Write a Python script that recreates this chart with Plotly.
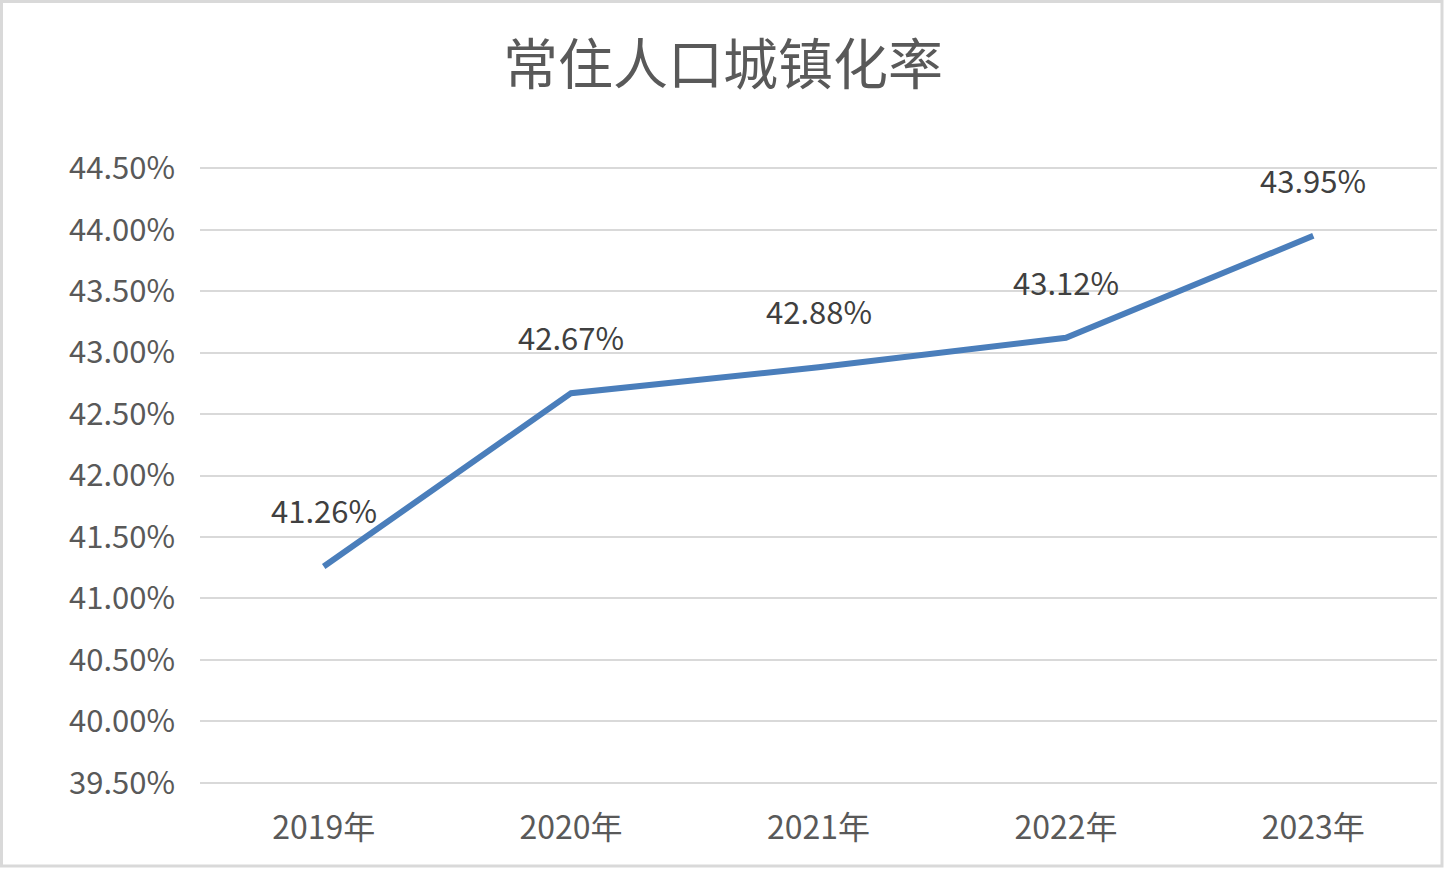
import plotly.graph_objects as go

years = ["2019年", "2020年", "2021年", "2022年", "2023年"]
rates = [41.26, 42.67, 42.88, 43.12, 43.95]
y_ticks = [39.5, 40.0, 40.5, 41.0, 41.5, 42.0, 42.5, 43.0, 43.5, 44.0, 44.5]
title_text = "常住人口城镇化率"

W, H = 1446, 870
L, R, T, B = 200, 9, 167, 86
FONT = "Noto Sans CJK SC, Noto Sans, sans-serif"

fig = go.Figure()
fig.add_trace(go.Scatter(
    x=years, y=rates, mode="lines",
    line=dict(color="#4A7EBB", width=6, shape="linear"),
    hoverinfo="skip", showlegend=False,
))

for xv, yv in zip(years, rates):
    fig.add_annotation(
        x=xv, y=yv, text=f"{yv:.2f}%", showarrow=False,
        yanchor="bottom", yshift=32,
        font=dict(family=FONT, size=31, color="#404040"),
    )

pw = W - L - R
ph = H - T - B
def px_x(p):
    return (p - L) / pw
def px_y(p):
    return (H - B - p) / ph

fig.add_shape(type="rect", xref="paper", yref="paper",
              x0=px_x(1.5), x1=px_x(1442), y0=px_y(866), y1=px_y(1.5),
              line=dict(color="#d9d9d9", width=3), fillcolor="rgba(0,0,0,0)",
              layer="below")

fig.update_layout(
    width=W, height=H,
    margin=dict(l=L, r=R, t=T, b=B),
    paper_bgcolor="white", plot_bgcolor="white",
    title=dict(text=title_text, x=0.5, xref="container", xanchor="center",
               y=1 - 65 / H, yref="container", yanchor="middle",
               font=dict(family=FONT, size=55, color="#595959")),
    font=dict(family=FONT, color="#595959"),
    xaxis=dict(type="category", range=[-0.5, 4.5], showgrid=False,
               showline=False, zeroline=False, ticks="",
               tickfont=dict(family=FONT, size=32, color="#595959"),
               ticklabelstandoff=22),
    yaxis=dict(range=[39.49, 44.51], tickvals=y_ticks,
               ticktext=[f"{v:.2f}%" for v in y_ticks],
               showgrid=True, gridcolor="#d9d9d9", gridwidth=2,
               zeroline=False, showline=False, ticks="",
               tickfont=dict(family=FONT, size=31, color="#595959"),
               ticklabelstandoff=24),
)

fig.write_html("out.html", config={"displayModeBar": False},
               post_script="document.body.style.margin='0';document.body.style.overflow='hidden';")
